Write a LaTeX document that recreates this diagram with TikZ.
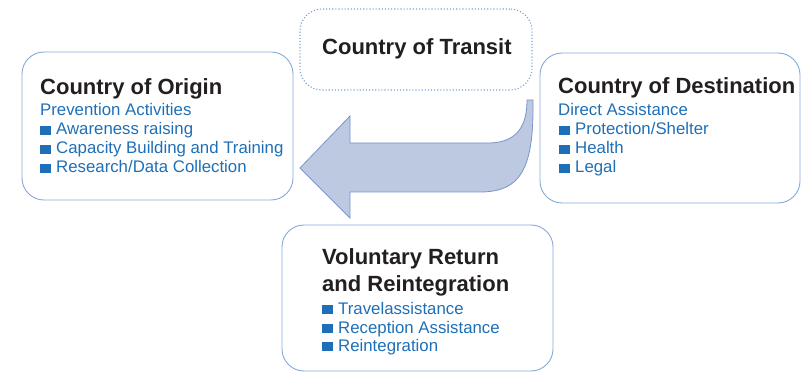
\documentclass[tikz,border=0pt]{standalone}
\usepackage{fontspec}
\setmainfont{Liberation Sans}
\usetikzlibrary{positioning}
\definecolor{headgray}{HTML}{231F20}
\definecolor{itemblue}{HTML}{1E6FB7}
\definecolor{boxline}{HTML}{85AADA}
\definecolor{dotline}{HTML}{7BA0D2}
\definecolor{arrowfill}{HTML}{BDC8E1}
\definecolor{arrowline}{HTML}{7896CA}
\newcommand\sqbullet{\textcolor{itemblue}{\rule[0.3pt]{10.5pt}{9pt}}\hspace{5.5pt}}
\tikzset{
  box/.style={draw=boxline, line width=0.9pt, rounded corners=22pt, inner sep=0pt},
  head/.style={anchor=base west, inner sep=0pt, text=headgray,
    font=\fontsize{22}{25}\selectfont\bfseries},
  item/.style={anchor=base west, inner sep=0pt, text=itemblue,
    font=\fontsize{16.8}{19}\selectfont},
}

\begin{document}
\begin{tikzpicture}[x=1pt, y=-1pt]
  \useasboundingbox (0,0) rectangle (801,374);

  % boxes
  \node[box, minimum width=271pt, minimum height=148pt] (origin) at (157.5,126) {};
  \node[box, draw=dotline, line width=1.1pt, dotted, minimum width=232pt,
    minimum height=81pt] (transit) at (416,49.5) {};
  \node[box, minimum width=260pt, minimum height=150pt] (dest) at (670,128) {};
  \node[box, minimum width=271pt, minimum height=146pt] (return) at (417.5,298) {};

  % big arrow from destination back to origin
  \draw[arrowline, fill=arrowfill, line width=0.8pt]
    (300,168) -- (350,116) -- (350,143) -- (490,143)
    .. controls (518,142) and (527,125) .. (527,100) -- (533,100)
    .. controls (534,170) and (520,191) .. (482,192)
    -- (350,192) -- (350,218) -- cycle;

  \node[head] (originhead) at (40,95) {Country of Origin};
  \node[item] (origintitle) at (40,116) {Prevention Activities};
  \foreach \t [count=\i] in {Awareness raising, Capacity Building and Training,
      Research/Data Collection}
    \node[item] (originitem\i) at (40,{116+19*\i}) {\sqbullet\t};

  \node[head] (transithead) at (322,55) {Country of Transit};

  \node[head] (desthead) at (558,94) {Country of Destination};
  \node[item] (desttitle) at (558,116) {Direct Assistance};
  \foreach \t [count=\i] in {Protection/Shelter, Health, Legal}
    \node[item] (destitem\i) at (559,{116+19*\i}) {\sqbullet\t};

  \node[head] (returnhead) at (322,265) {Voluntary Return};
  \node[head] (returnhead2) at (322,291) {and Reintegration};
  \foreach \t [count=\i] in {Travelassistance, Reception Assistance, Reintegration}
    \node[item] (returnitem\i) at (322,{296+18.5*\i}) {\sqbullet\t};
\end{tikzpicture}
\end{document}
